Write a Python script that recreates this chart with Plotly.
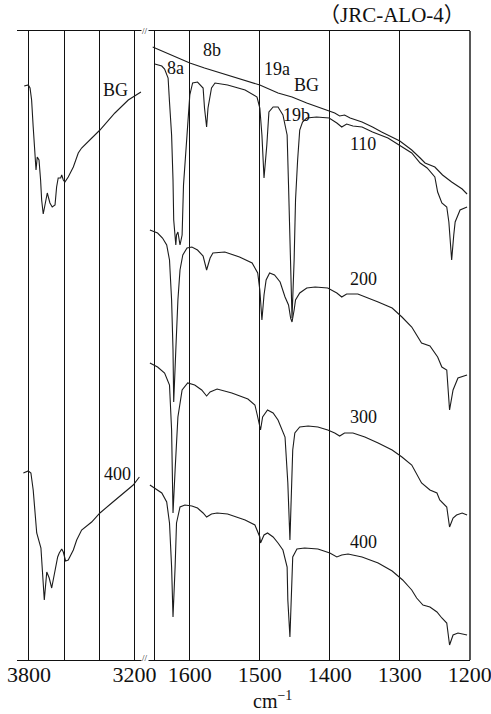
import plotly.graph_objects as go

# Pyridine-adsorbed JRC-ALO-4: IR spectra after evacuation at 110-400 (offset transmittance, a.u.)

# OH stretching region (3870-3140 cm-1)
oh_bg_wn = [3827, 3804, 3794, 3785, 3776, 3766, 3760, 3753, 3743, 3734, 3728, 3719, 3709, 3696, 3681,
            3668, 3652, 3643, 3634, 3620, 3614, 3605, 3596, 3577, 3548, 3520, 3501, 3397, 3312, 3236, 3164]
oh_bg_t = [574, 575, 572, 560, 533, 507, 490, 503, 500, 480, 460, 446, 457, 467, 457,
           453, 455, 473, 482, 482, 485, 480, 478, 483, 493, 507, 512, 530, 547, 560, 568]

oh_400_wn = [3832, 3804, 3789, 3776, 3756, 3732, 3724, 3713, 3699, 3685, 3671, 3656, 3637, 3628,
             3614, 3605, 3592, 3577, 3561, 3548, 3529, 3501, 3444, 3397, 3330, 3255, 3208, 3173]
oh_400_t = [187, 189, 187, 170, 127, 112, 90, 60, 88, 82, 72, 85, 103, 107,
            111, 108, 99, 100, 105, 110, 120, 130, 138, 147, 157, 168, 175, 183]

# Ring-vibration region (1665-1200 cm-1)
bg_wn = [1653, 1643, 1629, 1614, 1600, 1579, 1546, 1521, 1500, 1474, 1454, 1433, 1414, 1401, 1393,
         1386, 1379, 1371, 1354, 1339, 1326, 1300, 1283, 1271, 1264, 1250, 1239, 1226, 1211, 1204]
bg_t = [613, 610, 605, 601, 597, 592, 585, 580, 575, 567, 563, 557, 552, 549, 547,
        544, 545, 542, 538, 533, 528, 519, 510, 502, 497, 493, 485, 478, 471, 466]

s110_wn = [1650, 1640, 1636, 1631, 1629, 1626, 1624, 1623, 1620, 1619, 1617, 1614, 1611, 1609, 1604,
           1600, 1596, 1589, 1581, 1579, 1576, 1574, 1569, 1564, 1546, 1521, 1504, 1500, 1497, 1494,
           1490, 1487, 1481, 1474, 1467, 1461, 1459, 1456, 1454, 1451, 1449, 1446, 1443, 1439, 1433,
           1419, 1401, 1390, 1383, 1376, 1367, 1354, 1339, 1317, 1297, 1283, 1271, 1261, 1250, 1246,
           1240, 1233, 1230, 1226, 1223, 1221, 1214, 1204]
s110_t = [596, 594, 591, 582, 558, 525, 480, 440, 415, 425, 428, 415, 425, 475, 525,
          565, 577, 578, 572, 552, 533, 552, 572, 577, 575, 570, 563, 552, 525, 482,
          515, 548, 553, 553, 545, 525, 475, 400, 342, 400, 460, 500, 530, 538, 542,
          543, 542, 537, 533, 536, 534, 533, 528, 522, 513, 507, 497, 492, 483, 468,
          457, 453, 438, 400, 425, 438, 450, 453]

s200_wn = [1657, 1646, 1639, 1633, 1629, 1626, 1624, 1623, 1620, 1617, 1614, 1610, 1604, 1597, 1589,
           1581, 1576, 1571, 1567, 1550, 1529, 1511, 1503, 1500, 1497, 1494, 1491, 1486, 1479, 1471,
           1464, 1459, 1456, 1454, 1451, 1449, 1443, 1433, 1421, 1403, 1390, 1383, 1376, 1360, 1331,
           1311, 1297, 1283, 1269, 1257, 1246, 1240, 1233, 1229, 1224, 1217, 1204]
s200_t = [430, 427, 422, 415, 400, 360, 310, 258, 310, 360, 390, 405, 412, 413, 410,
          404, 390, 402, 407, 408, 403, 397, 387, 370, 340, 365, 380, 387, 385, 378,
          363, 355, 342, 338, 350, 360, 367, 372, 373, 372, 367, 363, 366, 366, 358,
          352, 343, 333, 317, 314, 303, 293, 290, 250, 270, 282, 285]

s300_wn = [1657, 1646, 1636, 1629, 1626, 1624, 1621, 1617, 1611, 1603, 1593, 1583, 1576, 1571, 1561,
           1540, 1517, 1507, 1503, 1499, 1496, 1489, 1481, 1474, 1464, 1460, 1457, 1454, 1453, 1450,
           1443, 1431, 1417, 1403, 1393, 1386, 1379, 1367, 1350, 1331, 1311, 1297, 1283, 1269, 1257,
           1247, 1243, 1233, 1229, 1224, 1219, 1211, 1204]
s300_t = [297, 293, 287, 275, 230, 147, 190, 243, 270, 277, 275, 270, 264, 268, 271,
          267, 261, 255, 243, 230, 243, 250, 247, 240, 223, 177, 120, 190, 210, 227,
          233, 234, 233, 230, 227, 224, 227, 227, 223, 217, 210, 203, 195, 177, 170,
          167, 160, 153, 133, 142, 145, 147, 145]

s400_wn = [1657, 1640, 1633, 1629, 1626, 1624, 1621, 1619, 1614, 1607, 1597, 1589, 1581, 1576, 1569,
           1561, 1546, 1521, 1507, 1500, 1499, 1494, 1489, 1481, 1474, 1467, 1461, 1460, 1457, 1454,
           1453, 1447, 1436, 1417, 1400, 1390, 1383, 1374, 1354, 1331, 1311, 1296, 1283, 1276, 1267,
           1257, 1247, 1240, 1233, 1229, 1224, 1217, 1204]
s400_t = [175, 167, 158, 137, 93, 43, 93, 137, 153, 155, 154, 152, 147, 143, 146,
          147, 146, 140, 135, 123, 117, 125, 127, 123, 117, 110, 93, 60, 23, 77,
          103, 111, 112, 111, 107, 103, 105, 106, 103, 97, 89, 80, 70, 62, 55,
          53, 48, 42, 37, 15, 25, 27, 25]

# Axis ticks: labelled values and unlabelled grid positions
left_ticks = [3800, 3200]
left_grid_only = [3600, 3400]
right_ticks = [1600, 1500, 1400, 1300, 1200]
right_grid_only = [1650]

# Curve labels: (text, wavenumber, value, axis)
curve_labels = [
    ("BG", 3311, 570, "x"),
    ("400", 3300, 186, "x"),
    ("8a", 1621, 592, "x2"),
    ("8b", 1569, 610, "x2"),
    ("19a", 1476, 591, "x2"),
    ("BG", 1433, 575, "x2"),
    ("19b", 1447, 545, "x2"),
    ("110", 1353, 516, "x2"),
    ("200", 1352, 381, "x2"),
    ("300", 1352, 243, "x2"),
    ("400", 1352, 118, "x2"),
]

LINE = dict(color="#1c1c1c", width=1.1)
SERIF = "Liberation Serif, Noto Sans CJK JP, serif"
INK = "#111"

fig = go.Figure()
for wn, t in [(oh_bg_wn, oh_bg_t), (oh_400_wn, oh_400_t)]:
    fig.add_trace(go.Scatter(x=wn, y=t, mode="lines", line=LINE, xaxis="x", yaxis="y",
                             hoverinfo="skip"))
for wn, t in [(bg_wn, bg_t), (s110_wn, s110_t), (s200_wn, s200_t),
              (s300_wn, s300_t), (s400_wn, s400_t)]:
    fig.add_trace(go.Scatter(x=wn, y=t, mode="lines", line=LINE, xaxis="x2", yaxis="y",
                             hoverinfo="skip"))

split = (145 - 17) / 453.0

axis_common = dict(
    showgrid=True, gridcolor=INK, gridwidth=1.4,
    showline=True, linecolor=INK, linewidth=1.4, mirror=True,
    ticks="", zeroline=False, fixedrange=True, automargin=False,
    ticklabeloverflow="allow", ticklabelstandoff=-6,
    tickfont=dict(family=SERIF, size=22, color=INK),
)

fig.update_layout(
    width=491, height=714,
    margin=dict(l=17, r=21, t=31, b=54),
    paper_bgcolor="white", plot_bgcolor="white",
    showlegend=False,
    xaxis=dict(domain=[0, split], range=[3868, 3141], tickmode="array",
               tickvals=left_ticks, anchor="y",
               minor=dict(tickmode="array", tickvals=left_grid_only, showgrid=True,
                          gridcolor=INK, gridwidth=1.4, ticks=""),
               **axis_common),
    xaxis2=dict(domain=[split, 1], range=[1664, 1199.8], tickmode="array",
                tickvals=right_ticks, anchor="y",
                minor=dict(tickmode="array", tickvals=right_grid_only, showgrid=True,
                           gridcolor=INK, gridwidth=1.4, ticks=""),
                **axis_common),
    yaxis=dict(range=[0, 629], visible=False, fixedrange=True),
)

# right frame edge
fig.add_shape(type="line", xref="paper", yref="paper", x0=1, x1=1, y0=0, y1=1,
              line=dict(color=INK, width=1.4))

for text, xv, yv, ax in curve_labels:
    fig.add_annotation(text=text, x=xv, y=yv, xref=ax, yref="y", showarrow=False,
                       font=dict(family=SERIF, size=18, color=INK),
                       xanchor="center", yanchor="middle")

# axis break marks
for yb, shift in ((0, 2), (1, 0)):
    fig.add_annotation(text="//", x=split, y=yb, xref="paper", yref="paper", showarrow=False,
                       font=dict(family=SERIF, size=9, color=INK), bgcolor="white",
                       xanchor="center", yanchor="middle", borderpad=0, yshift=shift)

fig.add_annotation(text="cm<sup>−1</sup>", x=(272 - 17) / 453.0, y=(660 - 700) / 629.0,
                   xref="paper", yref="paper", showarrow=False,
                   font=dict(family=SERIF, size=20, color=INK),
                   xanchor="center", yanchor="middle")

fig.add_annotation(text="（JRC-ALO-4）", x=(392 - 17) / 453.0, y=(660 - 15) / 629.0,
                   xref="paper", yref="paper", showarrow=False,
                   font=dict(family=SERIF, size=21, color=INK),
                   xanchor="center", yanchor="middle")

fig.write_html("out.html")
